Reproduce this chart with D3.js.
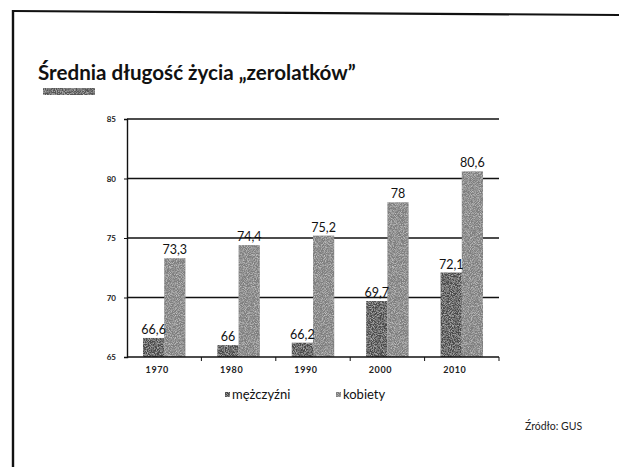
<!DOCTYPE html>
<html>
<head>
<meta charset="utf-8">
<script src="https://cdn.jsdelivr.net/npm/d3@7"></script>
<style>
  html, body { margin: 0; padding: 0; background: #fff; }
  svg { display: block; font-family: Lato, "Open Sans", sans-serif; }
</style>
</head>
<body>
<div id="chart"></div>
<script>
// Chart data
const years = ['1970', '1980', '1990', '2000', '2010'];
const seriesNames = ['mężczyźni', 'kobiety'];
const men = [66.6, 66, 66.2, 69.7, 72.1];
const women = [73.3, 74.4, 75.2, 78, 80.6];
const yTicks = [65, 70, 75, 80, 85];

const width = 619, height = 467;
const plot = { left: 127, right: 499, top: 119, bottom: 357 };

const svg = d3.select('#chart').append('svg')
    .attr('width', width)
    .attr('height', height);

// soft grain so the bars look like the scanned print
const defs = svg.append('defs');
const grain = defs.append('filter').attr('id', 'grain')
    .attr('x', 0).attr('y', 0).attr('width', 1).attr('height', 1);
grain.append('feTurbulence')
    .attr('type', 'fractalNoise').attr('baseFrequency', 1.1)
    .attr('numOctaves', 2).attr('seed', 3).attr('result', 'noise');
grain.append('feColorMatrix').attr('in', 'noise').attr('type', 'matrix')
    .attr('values', '0 0 0 0 1  0 0 0 0 1  0 0 0 0 1  0 0 0 -1.0 0.6')
    .attr('result', 'dots');
grain.append('feComposite').attr('in', 'dots').attr('in2', 'SourceGraphic')
    .attr('operator', 'in').attr('result', 'dotsIn');
const merge = grain.append('feMerge');
merge.append('feMergeNode').attr('in', 'SourceGraphic');
merge.append('feMergeNode').attr('in', 'dotsIn');

// page frame (scan edge)
svg.append('line')
    .attr('x1', 13).attr('y1', 11).attr('x2', width).attr('y2', 15)
    .attr('stroke', '#111').attr('stroke-width', 2.2);
svg.append('line')
    .attr('x1', 13).attr('y1', 10).attr('x2', 13).attr('y2', height)
    .attr('stroke', '#111').attr('stroke-width', 2.4);

// title
svg.append('text')
    .attr('x', 38).attr('y', 80)
    .attr('font-size', 20.6).attr('font-weight', 700).attr('fill', '#111')
    .text('Średnia długość życia „zerolatków”');
svg.append('rect')
    .attr('x', 43).attr('y', 88).attr('width', 52).attr('height', 7)
    .attr('fill', '#555').attr('filter', 'url(#grain)');

// scales
const x0 = d3.scaleBand().domain(years)
    .range([plot.left, plot.right])
    .paddingInner(0.43).paddingOuter(0.215);
const x1 = d3.scaleBand().domain(seriesNames)
    .range([0, x0.bandwidth()]);
const y = d3.scaleLinear().domain([65, 85]).range([plot.bottom, plot.top]);
const color = d3.scaleOrdinal().domain(seriesNames).range(['#484848', '#7e7e7e']);

// gridlines
svg.append('g').selectAll('line')
    .data(yTicks.filter(d => d > 65))
    .join('line')
    .attr('x1', plot.left).attr('x2', plot.right)
    .attr('y1', d => y(d)).attr('y2', d => y(d))
    .attr('stroke', '#111').attr('stroke-width', 1.3);

// bars
const rows = years.map((yr, i) => ({ year: yr, values: [men[i], women[i]] }));
const groups = svg.append('g').selectAll('g')
    .data(rows)
    .join('g')
    .attr('transform', d => `translate(${x0(d.year)},0)`);

groups.selectAll('rect')
    .data(d => d.values.map((v, k) => ({ key: seriesNames[k], value: v })))
    .join('rect')
    .attr('x', d => x1(d.key))
    .attr('y', d => y(d.value))
    .attr('width', x1.bandwidth())
    .attr('height', d => y(65) - y(d.value))
    .attr('fill', d => color(d.key))
    .attr('filter', 'url(#grain)');

groups.selectAll('text')
    .data(d => d.values.map((v, k) => ({ key: seriesNames[k], value: v })))
    .join('text')
    .attr('x', d => x1(d.key) + x1.bandwidth() / 2)
    .attr('y', d => y(d.value) - 4)
    .attr('text-anchor', 'middle')
    .attr('font-size', 12.5).attr('fill', '#111')
    .text(d => String(d.value).replace('.', ','));

// y axis
const yAxis = svg.append('g')
    .attr('transform', `translate(${plot.left},0)`)
    .call(d3.axisLeft(y).tickValues(yTicks).tickSize(3).tickPadding(8)
        .tickFormat(d3.format('d')));
yAxis.select('.domain').attr('stroke', '#111').attr('stroke-width', 1.4);
yAxis.selectAll('.tick line').attr('stroke', '#111');
yAxis.selectAll('text')
    .attr('font-family', 'Lato, sans-serif')
    .attr('font-size', 8).attr('font-weight', 700).attr('fill', '#222');

// x axis: labels under bands, ticks at band boundaries
const xAxis = svg.append('g')
    .attr('transform', `translate(0,${plot.bottom})`)
    .call(d3.axisBottom(x0).tickSize(0).tickPadding(10).tickSizeOuter(0));
xAxis.select('.domain').remove();
xAxis.selectAll('text')
    .attr('dx', -7)
    .attr('font-family', 'Lato, sans-serif')
    .attr('font-size', 9).attr('font-weight', 700)
    .attr('letter-spacing', 0.6).attr('fill', '#222');

svg.append('line')
    .attr('x1', plot.left).attr('x2', plot.right)
    .attr('y1', y(65)).attr('y2', y(65))
    .attr('stroke', '#111').attr('stroke-width', 1.4);
svg.append('g').selectAll('line')
    .data(years)
    .join('line')
    .attr('x1', d => x0(d) + x0.bandwidth() + x0.step() * x0.paddingInner() / 2)
    .attr('x2', d => x0(d) + x0.bandwidth() + x0.step() * x0.paddingInner() / 2)
    .attr('y1', y(65)).attr('y2', y(65) + 4)
    .attr('stroke', '#111');

// legend
const legendX = [225, 336];
const legend = svg.append('g').selectAll('g')
    .data(seriesNames)
    .join('g')
    .attr('transform', (d, i) => `translate(${legendX[i]},395)`);
legend.append('rect')
    .attr('x', 0).attr('y', -3).attr('width', 5).attr('height', 5)
    .attr('fill', d => color(d)).attr('filter', 'url(#grain)');
legend.append('text')
    .attr('x', 7).attr('y', 4)
    .attr('font-size', 13).attr('fill', '#111')
    .text(d => d);

// source
svg.append('text')
    .attr('x', 525).attr('y', 430)
    .attr('font-size', 10.5).attr('fill', '#222')
    .text('Źródło: GUS');
</script>
</body>
</html>
